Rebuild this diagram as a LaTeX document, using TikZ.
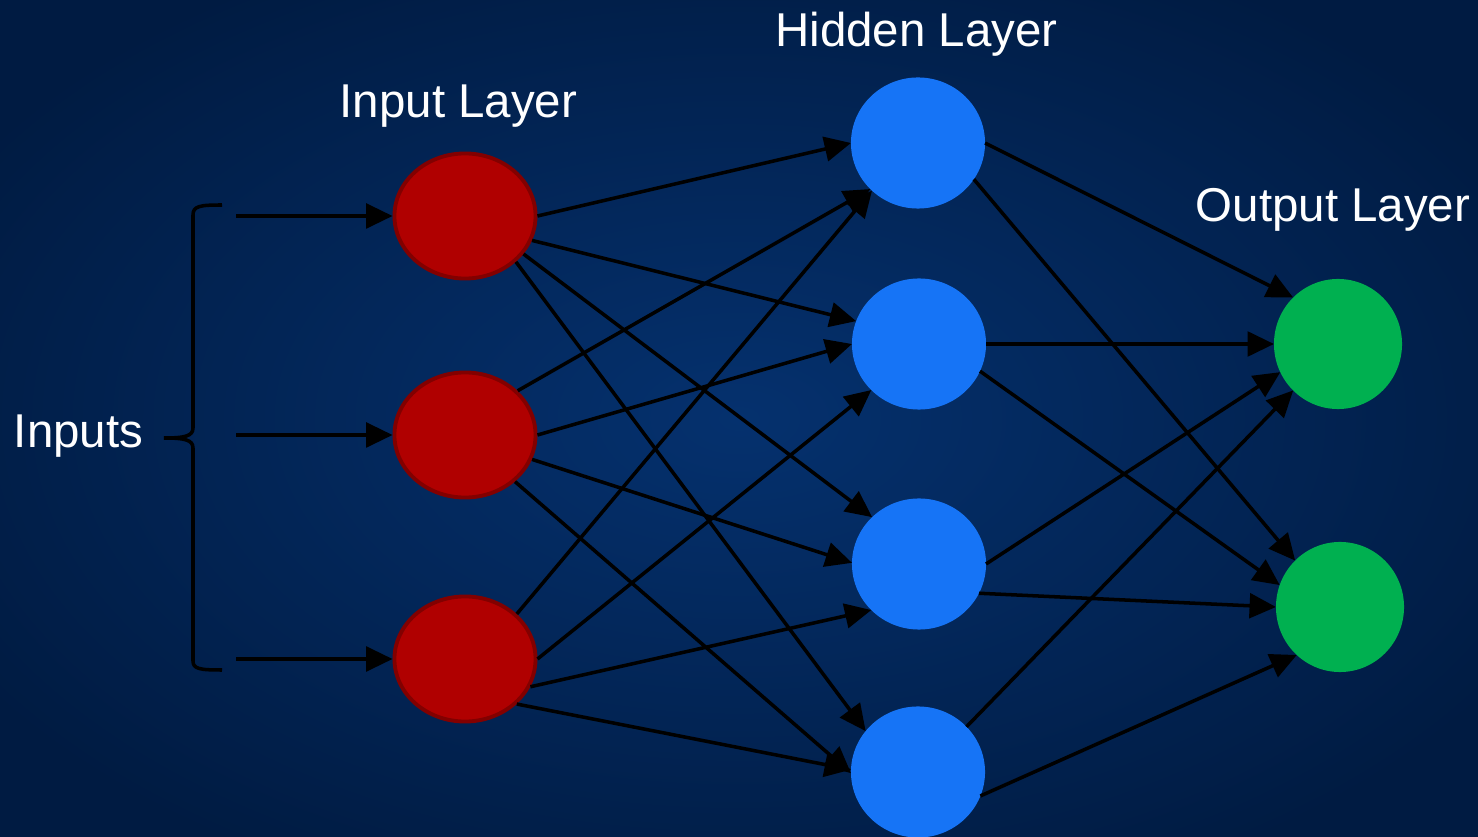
\documentclass[tikz,border=0pt]{standalone}
\usepackage{fontspec}
\setmainfont{Liberation Sans}
\usetikzlibrary{shapes.geometric,arrows.meta}
\definecolor{bgin}{RGB}{5,49,110}
\definecolor{bgout}{RGB}{0,27,66}
\definecolor{redfill}{RGB}{176,0,0}
\definecolor{redline}{RGB}{130,0,0}
\definecolor{bluefill}{RGB}{22,116,246}
\definecolor{greenfill}{RGB}{0,176,80}
\tikzset{
  inneuron/.style={ellipse,fill=redfill,draw=redline,line width=1.1pt,minimum width=1.41cm,minimum height=1.25cm,inner sep=0pt},
  hidneuron/.style={ellipse,fill=bluefill,minimum width=1.34cm,minimum height=1.31cm,inner sep=0pt,outer sep=0pt},
  outneuron/.style={ellipse,fill=greenfill,minimum width=1.28cm,minimum height=1.30cm,inner sep=0pt,outer sep=0pt},
  conn/.style={line width=1pt,black,-{Triangle[length=7.5pt,width=7pt]}},
  bracestyle/.style={line width=1pt,black},
  lbl/.style={text=white,font=\fontsize{13.5}{16}\selectfont,anchor=base,inner sep=0pt}
}
\begin{document}
\begin{tikzpicture}[x=0.01cm,y=-0.01cm]
\useasboundingbox (0,0) rectangle (1478,837);
\begin{scope}
\clip (0,0) rectangle (1478,837);
\shade[inner color=bgin,outer color=bgout] (-150,-100) rectangle (1628,937);
\end{scope}

% labels
\node[lbl] (tin) at (458.5,118) {Input Layer};
\node[lbl] (thid) at (916.5,47) {Hidden Layer};
\node[lbl] (tout) at (1333,222) {Output Layer};
\node[lbl] (tinputs) at (78.5,448) {Inputs};

% neurons
\node[inneuron] (i1) at (465,216) {};
\node[inneuron] (i2) at (465,435) {};
\node[inneuron] (i3) at (465,659) {};
\node[hidneuron] (h1) at (918,143) {};
\node[hidneuron] (h2) at (919,344) {};
\node[hidneuron] (h3) at (919,564) {};
\node[hidneuron] (h4) at (918,772) {};
\node[outneuron] (o1) at (1338,344) {};
\node[outneuron] (o2) at (1340,607) {};

% brace
\coordinate (btop) at (222,205);
\coordinate (btip) at (164,438);
\coordinate (bbot) at (222,670);
\draw[bracestyle] (btop) .. controls (200,205) and (193,206) .. (193,215) -- (193,428) .. controls (193,436) and (185,438) .. (btip);
\draw[bracestyle] (btip) .. controls (185,438) and (193,440) .. (193,448) -- (193,661) .. controls (193,669) and (200,670) .. (bbot);

% input arrows
\coordinate (s1) at (236,216);
\coordinate (s2) at (236,435);
\coordinate (s3) at (236,659);
\draw[conn] (s1) -- (i1.180);
\draw[conn] (s2) -- (i2.180);
\draw[conn] (s3) -- (i3.180);

% input -> hidden
\draw[conn] (i1.0) -- (h1.180);
\draw[conn] (i1.-20) -- (h2.160);
\draw[conn] (i1.-33) -- (h3.135);
\draw[conn] (i1.-42) -- (h4.142);
\draw[conn] (i2.40) -- (h1.224);
\draw[conn] (i2.0) -- (h2.180);
\draw[conn] (i2.-20) -- (h3.179);
\draw[conn] (i2.-43) -- (h4.181);
\draw[conn] (i3.41) -- (h1.226);
\draw[conn] (i3.0) -- (h2.224);
\draw[conn] (i3.-23) -- (h3.224);
\draw[conn] (i3.-41) -- (h4.178);

% hidden -> output
\draw[conn] (h1.0) -- (o1.134);
\draw[conn] (h1.-33) -- (o2.134);
\draw[conn] (h2.0) -- (o1.180);
\draw[conn] (h2.-24) -- (o2.160);
\draw[conn] (h3.0) -- (o1.206);
\draw[conn] (h3.-26) -- (o2.180);
\draw[conn] (h4.43) -- (o1.226);
\draw[conn] (h4.-21) -- (o2.228);
\end{tikzpicture}
\end{document}
